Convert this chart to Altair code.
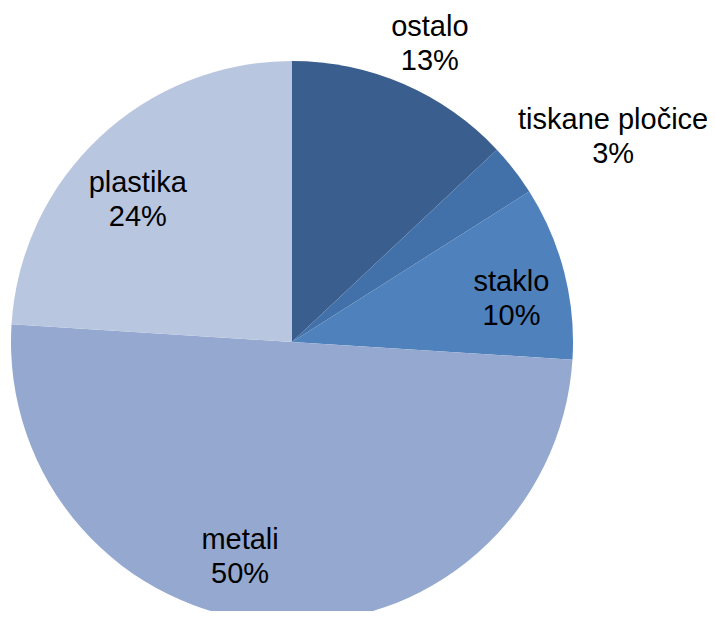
import altair as alt
import pandas as pd

categories = ["ostalo", "tiskane pločice", "staklo", "metali", "plastika"]
values = [13, 3, 10, 50, 24]
colors = ["#3A5F8F", "#4270A8", "#4F81BD", "#95A9D0", "#B9C6E0"]

# label placement (style): radial distance in px and angular nudge in percent units
label_radius = [330, 382, 224, 219, 211]
label_nudge = [0.36, 1.39, 0.78, 2.81, -1.04]

df = pd.DataFrame({
    "cat": categories,
    "val": values,
    "order": list(range(len(categories))),
    "lr": label_radius,
    "nudge": label_nudge,
})

CX, CY, R = 284, 334, 281

theta_scale = alt.Scale(domain=[0, 100], range=[0, 6.283185307179586])
color_scale = alt.Scale(domain=categories, range=colors)

arcs = alt.Chart(df).mark_arc(outerRadius=R).encode(
    theta=alt.Theta("val:Q", stack=True, scale=theta_scale),
    color=alt.Color("cat:N", scale=color_scale, legend=None),
    order=alt.Order("order:Q"),
    x=alt.value(CX),
    y=alt.value(CY),
)

labels = alt.Chart(df).transform_window(
    cum="sum(val)", sort=[alt.SortField("order")]
).transform_calculate(
    mid="datum.cum - datum.val / 2 + datum.nudge",
    label="[datum.cat, datum.val + '%']",
).mark_text(
    font="Liberation Sans", fontSize=29, lineHeight=34, align="center",
    baseline="middle", color="#000000", dy=-15,
).encode(
    theta=alt.Theta("mid:Q", stack=None, scale=theta_scale),
    radius=alt.Radius("lr:Q", scale=None),
    text=alt.Text("label:N"),
    x=alt.value(CX),
    y=alt.value(CY),
)

chart = alt.layer(arcs, labels).properties(
    width=699, height=603, padding=0, autosize="none",
).configure_view(stroke=None)

chart.save("out.html", embed_options={"renderer": "svg", "actions": False})
